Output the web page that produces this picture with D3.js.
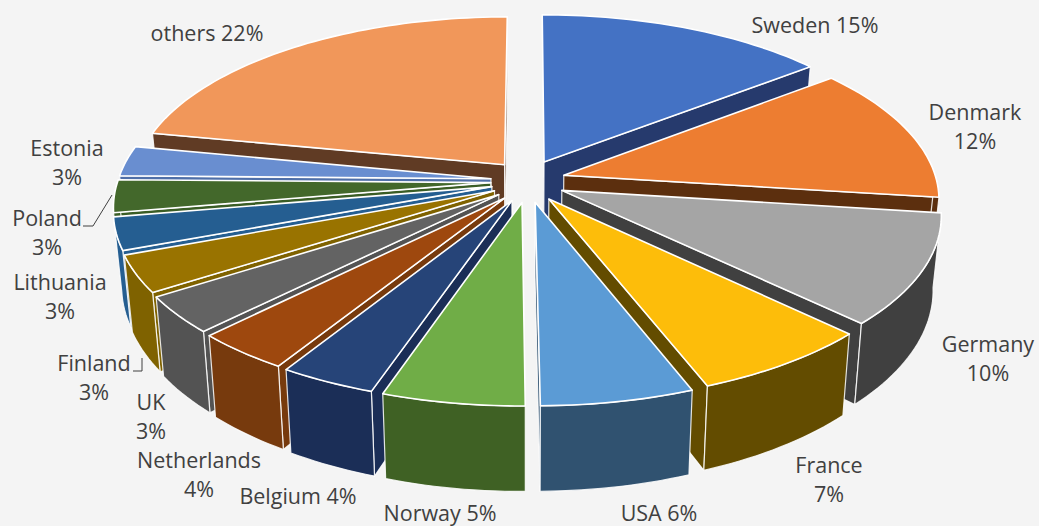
<!DOCTYPE html>
<html>
<head>
<meta charset="utf-8">
<script src="https://cdn.jsdelivr.net/npm/d3@7"></script>
<style>
  html, body { margin: 0; padding: 0; background: #f4f4f4; }
  svg { display: block; }
</style>
</head>
<body>
<div id="chart"></div>
<script>
const countries = ["Sweden", "Denmark", "Germany", "France", "USA", "Norway", "Belgium",
  "Netherlands", "UK", "Finland", "Lithuania", "Poland", "Estonia", "others"];
// the labels show them rounded
const shares = [14.3, 12.6, 10.2, 6.8, 5.7, 5.3, 3.6, 3.6, 3.4, 3.4, 3.0, 3.0, 2.8, 21.8];
const topColors = ["#4472c4", "#ed7d31", "#a5a5a5", "#fdbd0a", "#5b9bd5", "#70ad47", "#264478",
  "#9e480e", "#636363", "#997300", "#255e91", "#43682b", "#698ed0", "#f1975a"];
const wallColors = ["#263a6d", "#5c2f0e", "#404040", "#634c00", "#305270", "#3f6124", "#1b2e57",
  "#773a0d", "#535353", "#7f6200", "#255e91", "#3a5d25", "#4f6fa8", "#603b24"];

// label text lines, centre x and first baseline
const labelLines = [["Sweden 15%"], ["Denmark", "12%"], ["Germany", "10%"], ["France", "7%"], ["USA 6%"],
  ["Norway 5%"], ["Belgium 4%"], ["Netherlands", "4%"], ["UK", "3%"], ["Finland", "3%"],
  ["Lithuania", "3%"], ["Poland", "3%"], ["Estonia", "3%"], ["others 22%"]];
const labelX = [815, 975, 988, 829, 659, 440, 298, 199, 151, 94, 60, 47, 67, 207];
const labelY = [33, 120, 352, 473, 521, 521, 504, 468, 410, 371, 290, 226, 156, 41];

const width = 1039, height = 526;
const svg = d3.select("#chart").append("svg")
  .attr("width", width)
  .attr("height", height);

svg.append("rect").attr("width", width).attr("height", height).attr("fill", "#f4f4f4");

// fake 3d: flat disc coords (u, v) with perspective k, wall height goes 0..1
const cx = 528, cy = 181, perspective = 0.13, wallH = 73;
const x = d3.scaleLinear().domain([-1, 1]).range([cx - 373, cx + 373]);
const y = d3.scaleLinear().domain([-1, 1]).range([cy + 171, cy - 171]);
const explodeU = 0.1, explodeV = 0.125;

function project(u, v, h) {
  const s = 1 / (1 + perspective * v);
  return [
    cx + (x(u) - cx) * s * (1 - 0.02 * h),
    cy + (y(v) - cy) * s + h * wallH * s
  ];
}

const pie = d3.pie().sort(null).value(d => d);
const arcs = pie(shares).map((a, i) => {
  const mid = (a.startAngle + a.endAngle) / 2;
  return {
    i,
    a0: a.startAngle,
    a1: a.endAngle,
    du: explodeU * Math.sin(mid),
    dv: explodeV * Math.cos(mid),
    depth: Math.cos(mid)
  };
});

function rimPoint(d, t, h) {
  return project(Math.sin(t) + d.du, Math.cos(t) + d.dv, h);
}
function apex(d, h) {
  return project(d.du, d.dv, h);
}
function rim(d, h, t0 = d.a0, t1 = d.a1) {
  const n = Math.max(4, Math.ceil((t1 - t0) * 40));
  return d3.range(n + 1).map(j => rimPoint(d, t0 + (t1 - t0) * j / n, h));
}

const line = d3.line();
const closed = pts => line(pts) + "Z";

// back slices first
const order = arcs.slice().sort((a, b) => b.depth - a.depth);

const slices = svg.selectAll("g.slice")
  .data(order)
  .join("g")
  .attr("class", "slice")
  .attr("stroke-linejoin", "round");

slices.each(function (d) {
  const g = d3.select(this);
  const wall = pts => g.append("path")
    .attr("d", closed(pts))
    .attr("fill", wallColors[d.i])
    .attr("stroke", "#ffffff")
    .attr("stroke-opacity", 0.85)
    .attr("stroke-width", 1.2);

  // only the walls that face the viewer
  if (Math.sin(d.a0) < 0) wall([apex(d, 0), rimPoint(d, d.a0, 0), rimPoint(d, d.a0, 1), apex(d, 1)]);
  if (Math.sin(d.a1) > 0) wall([apex(d, 0), rimPoint(d, d.a1, 0), rimPoint(d, d.a1, 1), apex(d, 1)]);
  const t0 = Math.max(d.a0, Math.PI / 2), t1 = Math.min(d.a1, Math.PI * 1.5);
  if (t1 > t0) wall(rim(d, 0, t0, t1).concat(rim(d, 1, t0, t1).reverse()));

  g.append("path")
    .attr("d", closed([apex(d, 0)].concat(rim(d, 0))))
    .attr("fill", topColors[d.i])
    .attr("stroke", "#ffffff")
    .attr("stroke-width", 1.6);
});

// leader lines for Poland and Finland
const leaders = [
  [[83, 226], [93, 226], [112, 195]],
  [[133, 371], [142, 371], [142, 358]]
];
svg.selectAll("path.leader")
  .data(leaders)
  .join("path")
  .attr("class", "leader")
  .attr("d", d => line(d))
  .attr("fill", "none")
  .attr("stroke", "#404040")
  .attr("stroke-width", 1);

const labels = svg.selectAll("text.label")
  .data(labelLines)
  .join("text")
  .attr("class", "label")
  .attr("text-anchor", "middle")
  .attr("fill", "#404040")
  .style("font-family", "'Open Sans', sans-serif")
  .style("font-size", "21.5px");

labels.each(function (lines, i) {
  d3.select(this).selectAll("tspan")
    .data(lines)
    .join("tspan")
    .attr("x", labelX[i])
    .attr("y", (_, j) => labelY[i] + j * 29)
    .text(t => t);
});
</script>
</body>
</html>
